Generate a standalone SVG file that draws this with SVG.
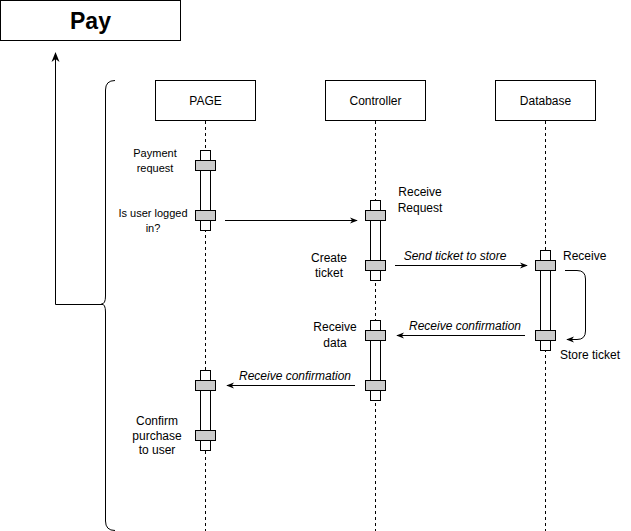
<svg xmlns="http://www.w3.org/2000/svg" width="631" height="531" viewBox="0 0 631 531">
<defs>
<marker id="arr" viewBox="0 0 10 10" refX="9" refY="5" markerWidth="8" markerHeight="8" markerUnits="userSpaceOnUse" orient="auto">
<path d="M0,1 L10,5 L0,9 L3,5 Z" fill="#000"/>
</marker>
<marker id="arrL" viewBox="0 0 10 10" refX="9" refY="5" markerWidth="10" markerHeight="10" markerUnits="userSpaceOnUse" orient="auto">
<path d="M0,1 L10,5 L0,9 L3,5 Z" fill="#000"/>
</marker>
<style>
.box{fill:#fff;stroke:#000;stroke-width:1}
.life{stroke:#000;stroke-width:1;stroke-dasharray:3,3;fill:none}
.act{fill:#fff;stroke:#000;stroke-width:1}
.blk{fill:#cccccc;stroke:#000;stroke-width:1}
.t{font-family:"Liberation Sans",Arial,sans-serif;font-size:12px;fill:#000}
.s{font-family:"Liberation Sans",Arial,sans-serif;font-size:11px;fill:#000}
.i{font-family:"Liberation Sans",Arial,sans-serif;font-size:12px;font-style:italic;fill:#000}
.c{stroke:#000;stroke-width:1;fill:none}
</style>
</defs>
<rect width="631" height="531" fill="#fff"/>

<g id="pay">
<rect class="box" x="0.5" y="0.5" width="180" height="40"/>
<text x="90.5" y="28.5" text-anchor="middle" style="font-family:'Liberation Sans',Arial,sans-serif;font-size:23px;font-weight:bold">Pay</text>
</g>

<g id="brace">
<path class="c" d="M115,80.5 Q105.5,80.5 105.5,90 L105.5,296 Q105.5,304 101.5,304 Q105.5,304 105.5,312 L105.5,521 Q105.5,530.5 115,530.5"/>
</g>

<g id="page">
<rect class="box" x="155.5" y="80.5" width="100" height="40"/>
<text class="t" x="205.5" y="105" text-anchor="middle">PAGE</text>
<line class="life" x1="205.5" y1="121" x2="205.5" y2="531"/>
</g>
<g id="controller">
<rect class="box" x="325.5" y="80.5" width="100" height="40"/>
<text class="t" x="375.5" y="105" text-anchor="middle">Controller</text>
<line class="life" x1="375.5" y1="121" x2="375.5" y2="531"/>
</g>
<g id="database">
<rect class="box" x="495.5" y="80.5" width="100" height="40"/>
<text class="t" x="545.5" y="105" text-anchor="middle">Database</text>
<line class="life" x1="545.5" y1="121" x2="545.5" y2="531"/>
</g>

<g id="page-act1">
<rect class="act" x="200.5" y="150.5" width="10" height="80"/>
<rect class="blk" x="195.5" y="160.5" width="20" height="10"/>
<rect class="blk" x="195.5" y="210.5" width="20" height="10"/>
<text class="s" x="155" y="157" text-anchor="middle">Payment</text>
<text class="s" x="155" y="172" text-anchor="middle">request</text>
<text class="s" x="153" y="217" text-anchor="middle">Is user logged</text>
<text class="s" x="153" y="232" text-anchor="middle">in?</text>
</g>

<g id="ctrl-act1">
<rect class="act" x="370.5" y="200.5" width="10" height="80"/>
<rect class="blk" x="365.5" y="210.5" width="20" height="10"/>
<rect class="blk" x="365.5" y="260.5" width="20" height="10"/>
<text class="t" x="420" y="196" text-anchor="middle">Receive</text>
<text class="t" x="420" y="212" text-anchor="middle">Request</text>
<text class="t" x="329" y="262" text-anchor="middle">Create</text>
<text class="t" x="329" y="277" text-anchor="middle">ticket</text>
</g>

<g id="db-act">
<rect class="act" x="540.5" y="250.5" width="10" height="100"/>
<rect class="blk" x="535.5" y="260.5" width="20" height="10"/>
<rect class="blk" x="535.5" y="330.5" width="20" height="10"/>
<text class="t" x="563" y="260">Receive</text>
<text class="t" x="560" y="359">Store ticket</text>
</g>

<g id="ctrl-act2">
<rect class="act" x="370.5" y="320.5" width="10" height="80"/>
<rect class="blk" x="365.5" y="330.5" width="20" height="10"/>
<rect class="blk" x="365.5" y="380.5" width="20" height="10"/>
<text class="t" x="335" y="331" text-anchor="middle">Receive</text>
<text class="t" x="335" y="347" text-anchor="middle">data</text>
</g>

<g id="page-act2">
<rect class="act" x="200.5" y="370.5" width="10" height="80"/>
<rect class="blk" x="195.5" y="380.5" width="20" height="10"/>
<rect class="blk" x="195.5" y="430.5" width="20" height="10"/>
<text class="t" x="157" y="425" text-anchor="middle">Confirm</text>
<text class="t" x="157" y="440" text-anchor="middle">purchase</text>
<text class="t" x="157" y="454" text-anchor="middle">to user</text>
</g>

<g id="connectors">
<path class="c" d="M103,304.5 L55.5,304.5 L55.5,53" marker-end="url(#arrL)"/>
<line class="c" x1="225" y1="220.5" x2="357" y2="220.5" marker-end="url(#arr)"/>
<line class="c" x1="395" y1="265.5" x2="527" y2="265.5" marker-end="url(#arr)"/>
<text class="i" x="455" y="260" text-anchor="middle">Send ticket to store</text>
<path class="c" d="M565,270.5 L577,270.5 Q585.5,270.5 585.5,279 L585.5,331 Q585.5,339.5 577,339.5 L567,339.5" marker-end="url(#arr)"/>
<line class="c" x1="525" y1="335.5" x2="397" y2="335.5" marker-end="url(#arr)"/>
<text class="i" x="465" y="330" text-anchor="middle">Receive confirmation</text>
<line class="c" x1="355" y1="385.5" x2="227" y2="385.5" marker-end="url(#arr)"/>
<text class="i" x="295" y="380" text-anchor="middle">Receive confirmation</text>
</g>
</svg>
